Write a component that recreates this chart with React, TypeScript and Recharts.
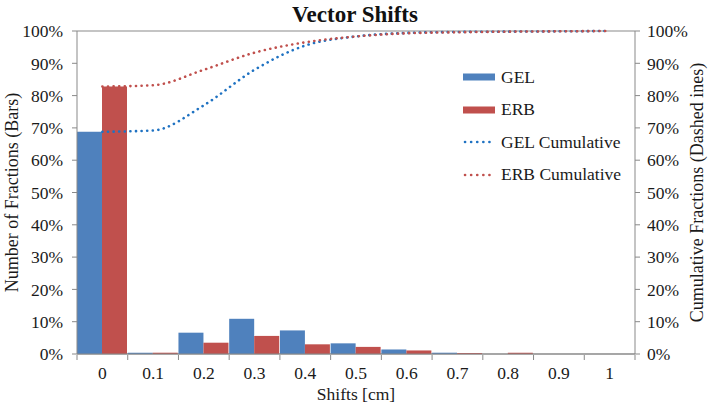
import React from "react";
import { ComposedChart, Bar, Line, XAxis, YAxis, CartesianGrid } from "recharts";

const categories = ["0", "0.1", "0.2", "0.3", "0.4", "0.5", "0.6", "0.7", "0.8", "0.9", "1"];
const gelBars = [68.8, 0.4, 6.6, 10.9, 7.3, 3.3, 1.4, 0.4, 0, 0, 0];
const erbBars = [82.8, 0.4, 3.5, 5.6, 3.0, 2.2, 1.1, 0.3, 0.4, 0, 0];
const gelCumulative = [68.8, 69.2, 77.0, 88.0, 95.5, 98.3, 99.4, 99.7, 99.8, 99.9, 100];
const erbCumulative = [82.8, 83.2, 88.0, 93.3, 96.5, 98.3, 99.3, 99.6, 99.8, 99.9, 100];
const percentTicks = [0, 10, 20, 30, 40, 50, 60, 70, 80, 90, 100];

const data = categories.map((c, i) => ({
  name: c,
  gel: gelBars[i],
  erb: erbBars[i],
  gelCum: gelCumulative[i],
  erbCum: erbCumulative[i],
}));

const W = 709;
const H = 406;
const LEFT_W = 77;
const RIGHT_W = 74;
const BAND = (W - LEFT_W - RIGHT_W) / categories.length;

const FONT = "Liberation Serif, Times New Roman, serif";
const AXIS = "#898989";
const GEL = "#4F81BD";
const ERB = "#C0504D";
const GEL_LINE = "#1F72C2";
const ERB_LINE = "#C0504D";

if (typeof document !== "undefined") document.body.style.margin = "0";

const XTick = (props: any) => {
  const { x, y, payload, index } = props;
  const top = y - 7;
  return (
    <g>
      <line x1={x - BAND / 2} x2={x - BAND / 2} y1={top} y2={top + 5} stroke={AXIS} />
      {index === categories.length - 1 && (
        <line x1={x + BAND / 2} x2={x + BAND / 2} y1={top} y2={top + 5} stroke={AXIS} />
      )}
      <text x={x} y={y} dy={17} textAnchor="middle" fill="#1a1a1a" style={{ fontSize: 17.5, fontFamily: FONT }}>
        {payload.value}
      </text>
    </g>
  );
};

const sideTitle = (text: string, dx: number) => (props: any) => {
  const vb = props.viewBox;
  const cx = vb.x + dx;
  const cy = vb.y + vb.height / 2;
  return (
    <text
      x={cx}
      y={cy}
      transform={`rotate(-90, ${cx}, ${cy})`}
      textAnchor="middle"
      dominantBaseline="central"
      fill="#1a1a1a"
      style={{ fontSize: 18, fontFamily: FONT }}
    >
      {text}
    </text>
  );
};

const legendItems = [
  { label: "GEL", color: GEL, kind: "bar" },
  { label: "ERB", color: ERB, kind: "bar" },
  { label: "GEL Cumulative", color: GEL_LINE, kind: "line" },
  { label: "ERB Cumulative", color: ERB_LINE, kind: "line" },
];

const LegendBox = () => (
  <div
    style={{
      position: "absolute",
      left: 463,
      top: 61,
      fontFamily: FONT,
      fontSize: 17.5,
      color: "#1a1a1a",
      background: "transparent",
    }}
  >
    {legendItems.map((it) => (
      <div key={it.label} style={{ display: "flex", alignItems: "center", height: 32.5 }}>
        <svg width={34} height={10} style={{ marginRight: 4 }}>
          {it.kind === "bar" ? (
            <rect x={0} y={1.5} width={32} height={7} fill={it.color} />
          ) : (
            <line
              x1={2}
              x2={32}
              y1={5}
              y2={5}
              stroke={it.color}
              strokeWidth={2.6}
              strokeLinecap="round"
              strokeDasharray="0.1 6"
            />
          )}
        </svg>
        <span>{it.label}</span>
      </div>
    ))}
  </div>
);

export default function App() {
  return (
    <div style={{ position: "relative", width: W, height: H, background: "#fff" }}>
      <ComposedChart
        width={W}
        height={H}
        data={data}
        margin={{ top: 31, right: 0, left: 0, bottom: 0 }}
        barCategoryGap={0}
        barGap={0}
      >
        <CartesianGrid vertical={false} stroke={AXIS} strokeWidth={1} />
        <XAxis
          dataKey="name"
          height={52}
          stroke={AXIS}
          tickLine={false}
          tick={<XTick />}
          interval={0}
          label={{
            value: "Shifts [cm]",
            position: "insideBottom",
            offset: 6,
            style: { fontSize: 17.5, fontFamily: FONT, fill: "#1a1a1a" },
          }}
        />
        <YAxis
          yAxisId="left"
          orientation="left"
          width={LEFT_W}
          domain={[0, 100]}
          ticks={percentTicks}
          tickFormatter={(v) => `${v}%`}
          stroke={AXIS}
          tickSize={5}
          tickMargin={9}
          tick={{ fill: "#1a1a1a", style: { fontSize: 17.5, fontFamily: FONT } }}
          label={sideTitle("Number of Fractions (Bars)", 12)}
          interval={0}
        />
        <YAxis
          yAxisId="right"
          orientation="right"
          width={RIGHT_W}
          domain={[0, 100]}
          ticks={percentTicks}
          tickFormatter={(v) => `${v}%`}
          stroke={AXIS}
          tickSize={5}
          tickMargin={7}
          tick={{ fill: "#1a1a1a", textAnchor: "start", style: { fontSize: 17.5, fontFamily: FONT } }}
          label={sideTitle("Cumulative Fractions (Dashed ines)", 62)}
          interval={0}
        />
        <Bar yAxisId="left" dataKey="gel" name="GEL" fill={GEL} isAnimationActive={false} />
        <Bar yAxisId="left" dataKey="erb" name="ERB" fill={ERB} isAnimationActive={false} />
        <Line
          yAxisId="right"
          dataKey="gelCum"
          name="GEL Cumulative"
          type="monotone"
          stroke={GEL_LINE}
          strokeWidth={2.6}
          strokeLinecap="round"
          strokeDasharray="0.1 5.5"
          dot={false}
          activeDot={false}
          isAnimationActive={false}
        />
        <Line
          yAxisId="right"
          dataKey="erbCum"
          name="ERB Cumulative"
          type="monotone"
          stroke={ERB_LINE}
          strokeWidth={2.6}
          strokeLinecap="round"
          strokeDasharray="0.1 5.5"
          dot={false}
          activeDot={false}
          isAnimationActive={false}
        />
      </ComposedChart>
      <svg width={W} height={30} style={{ position: "absolute", left: 0, top: 0 }}>
        <text x={355} y={22} textAnchor="middle" fill="#111" style={{ fontSize: 23, fontWeight: "bold", fontFamily: FONT }}>
          Vector Shifts
        </text>
      </svg>
      <LegendBox />
    </div>
  );
}
